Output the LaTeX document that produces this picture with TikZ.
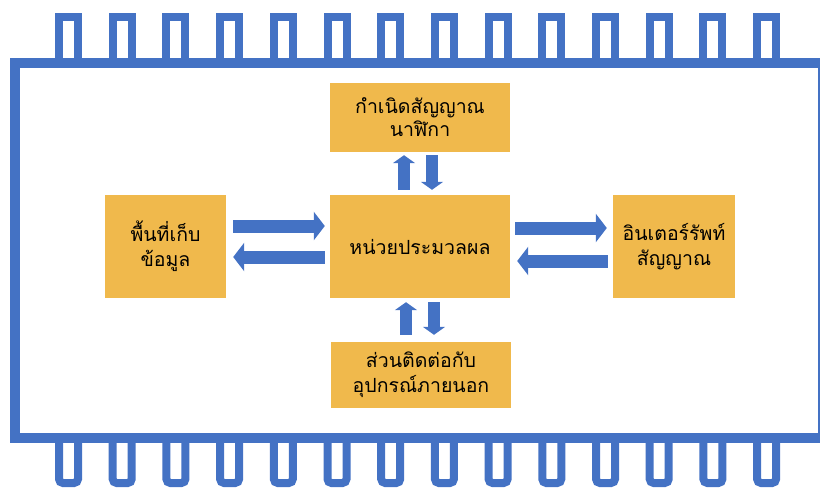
\documentclass[tikz,border=0pt]{standalone}
\usepackage{fontspec}
\newfontfamily\thaifont[Script=Thai]{Loma}
\usetikzlibrary{arrows.meta}
\definecolor{chipblue}{HTML}{4472C4}
\definecolor{boxgold}{HTML}{F0B94C}
\begin{document}
\begin{tikzpicture}[x=1pt,y=-1pt,
  box/.style={fill=boxgold, inner sep=0pt, align=center, text=black,
    font=\thaifont\fontsize{19.5}{25}\selectfont},
  pinline/.style={draw=chipblue, line width=8pt},
  barr/.style={draw=chipblue, line width=13pt, -{Triangle[length=11pt,width=28pt]}},
  varr/.style={draw=chipblue, line width=12pt, -{Triangle[length=8pt,width=22pt]}}]
\useasboundingbox (0,0) rectangle (820,488);
\clip (0,0) rectangle (820,488);
% pins
\foreach \i in {0,...,13} {
  \pgfmathsetmacro\cx{68.5+53.7*\i}
  \draw[pinline] (\cx-9.5,60) -- (\cx-9.5,17) -- (\cx+9.5,17) -- (\cx+9.5,60);
  \draw[pinline, rounded corners=4pt] (\cx-9.5,441) -- (\cx-9.5,483) -- (\cx+9.5,483) -- (\cx+9.5,441);
}
% chip body
\draw[chipblue, line width=10pt] (15,63) rectangle (823,438);
% boxes
\node[box, minimum width=180pt, minimum height=69pt, font=\thaifont\fontsize{19.5}{23}\selectfont] (clk) at (420,117.5) {กำเนิดสัญญาณ\\นาฬิกา};
\node[box, minimum width=180pt, minimum height=103pt] (cpu) at (420,246.5) {หน่วยประมวลผล};
\node[box, minimum width=180pt, minimum height=66pt] (io) at (421,375) {ส่วนติดต่อกับ\\อุปกรณ์ภายนอก};
\node[box, minimum width=121pt, minimum height=103pt] (mem) at (165.5,246.5) {พื้นที่เก็บ\\ข้อมูล};
\node[box, minimum width=122pt, minimum height=103pt] (intr) at (674,246.5) {อินเตอร์รัพท์\\สัญญาณ};
% arrows left pair
\draw[barr] ([xshift=7pt,yshift=20.5pt]mem.east) -- ([xshift=-5pt,yshift=20.5pt]cpu.west);
\draw[barr] ([xshift=-5pt,yshift=-10.5pt]cpu.west) -- ([xshift=7pt,yshift=-10.5pt]mem.east);
% arrows right pair
\draw[barr] ([xshift=5pt,yshift=18.5pt]cpu.east) -- ([xshift=-6pt,yshift=18.5pt]intr.west);
\draw[barr] ([xshift=-5pt,yshift=-14.5pt]intr.west) -- ([xshift=7pt,yshift=-14.5pt]cpu.east);
% arrows top pair
\draw[varr] ([xshift=-16pt,yshift=5pt]cpu.north) -- ([xshift=-16pt,yshift=-3pt]clk.south);
\draw[varr] ([xshift=12pt,yshift=-3pt]clk.south) -- ([xshift=12pt,yshift=5pt]cpu.north);
% arrows bottom pair
\draw[varr] ([xshift=-15pt,yshift=7pt]io.north) -- ([xshift=-14pt,yshift=-4pt]cpu.south);
\draw[varr] ([xshift=14pt,yshift=-4pt]cpu.south) -- ([xshift=13pt,yshift=7pt]io.north);
\end{tikzpicture}
\end{document}
